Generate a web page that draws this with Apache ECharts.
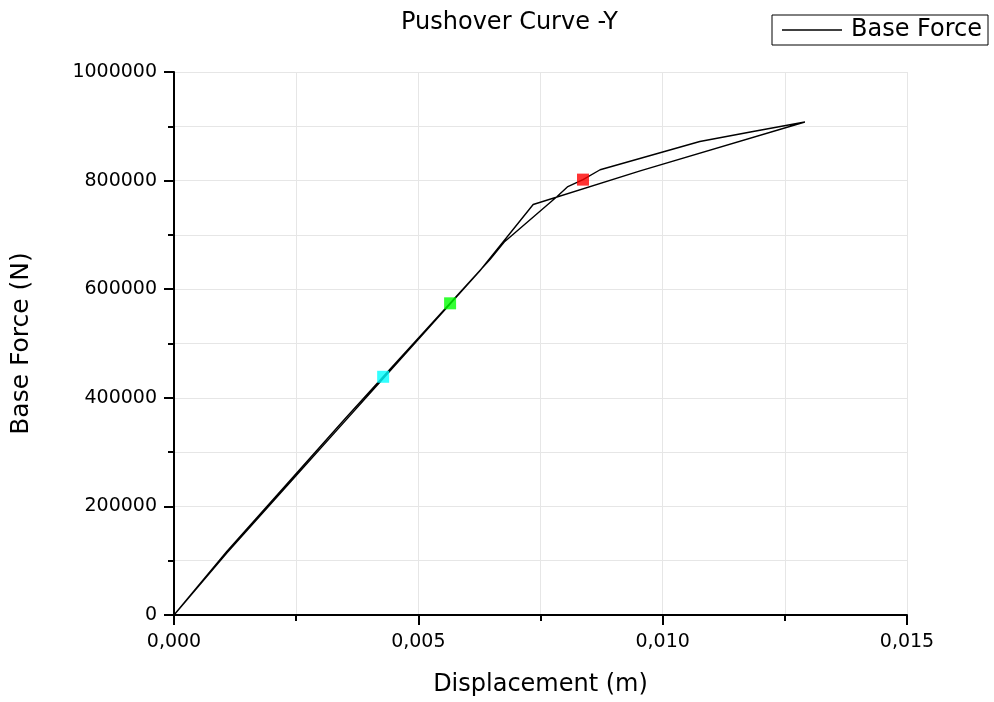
<!DOCTYPE html>
<html>
<head>
<meta charset="utf-8">
<script src="https://cdn.jsdelivr.net/npm/echarts@6/dist/echarts.min.js"></script>
<style>
html,body{margin:0;padding:0;background:#fff;}
#main{width:994px;height:702px;}
</style>
</head>
<body>
<div id="main"></div>
<script>
// loading branch (up), displacement in m, force in N
var upDisp  = [0, 0.00108, 0.0035, 0.00428, 0.00565, 0.00647, 0.00677, 0.00784, 0.00806, 0.00837, 0.00872, 0.01076, 0.01185, 0.01291];
var upForce = [0, 117000, 361500, 438700, 574000, 655000, 688000, 770600, 789000, 801800, 820000, 872000, 890500, 908000];
// return branch (back to origin)
var downDisp  = [0.01291, 0.00954, 0.00735, 0.00626, 0.0035, 0.00108, 0];
var downForce = [908000, 818000, 756000, 634000, 357000, 114000, 0];
// performance points
var markDisp  = [0.00428, 0.00565, 0.00837];
var markForce = [438700, 574000, 801800];
var markColors = ['#00ffff', '#00ff00', '#ff0000'];

var xTicks = { min: 0, max: 0.015, interval: 0.005 };
var yTicks = { min: 0, max: 1000000, interval: 200000 };

var curve = [];
for (var i = 0; i < upDisp.length; i++) curve.push([upDisp[i], upForce[i]]);
for (var j = 1; j < downDisp.length; j++) curve.push([downDisp[j], downForce[j]]);

var marks = [];
for (var k = 0; k < markDisp.length; k++) {
	marks.push({ value: [markDisp[k], markForce[k]], itemStyle: { color: markColors[k] } });
}

var font = 'DejaVu Sans';
var gridColor = '#e6e6e6';

var myChart = echarts.init(document.getElementById('main'));
var option = {
	animation: false,
	backgroundColor: '#fff',
	title: {
		text: 'Pushover Curve -Y',
		left: 401, top: 11, padding: 0,
		textStyle: { fontFamily: font, fontSize: 24, fontWeight: 'normal', color: '#000' }
	},
	legend: {
		data: [{ name: 'Base Force', icon: 'rect' }],
		left: 772, top: 15,
		padding: [3, 6, 3, 10],
		borderColor: '#000', borderWidth: 1,
		itemWidth: 60, itemHeight: 1.3,
		itemStyle: { color: '#000' },
		textStyle: { fontFamily: font, fontSize: 24, color: '#000', padding: [0, 0, 0, 4] }
	},
	grid: { left: 174, right: 87, top: 72, bottom: 85, containLabel: false },
	xAxis: {
		type: 'value',
		min: xTicks.min, max: xTicks.max, interval: xTicks.interval,
		name: 'Displacement (m)', nameLocation: 'middle', nameGap: 58,
		nameTextStyle: { fontFamily: font, fontSize: 24, color: '#000' },
		axisLine: { lineStyle: { color: '#000', width: 2 } },
		axisTick: { length: 10, lineStyle: { color: '#000', width: 2 } },
		minorTick: { show: true, splitNumber: 2, length: 6, lineStyle: { color: '#000', width: 2 } },
		splitLine: { show: true, lineStyle: { color: gridColor, width: 1 } },
		minorSplitLine: { show: true, lineStyle: { color: gridColor, width: 1 } },
		axisLabel: {
			margin: 18, fontFamily: font, fontSize: 19, color: '#000',
			formatter: function (v) { return v.toFixed(3).replace('.', ','); }
		}
	},
	yAxis: {
		type: 'value',
		min: yTicks.min, max: yTicks.max, interval: yTicks.interval,
		name: 'Base Force (N)', nameLocation: 'middle', nameGap: 140,
		nameTextStyle: { fontFamily: font, fontSize: 25, color: '#000' },
		axisLine: { show: true, lineStyle: { color: '#000', width: 2 } },
		axisTick: { show: true, length: 10, lineStyle: { color: '#000', width: 2 } },
		minorTick: { show: true, splitNumber: 2, length: 6, lineStyle: { color: '#000', width: 2 } },
		splitLine: { show: true, lineStyle: { color: gridColor, width: 1 } },
		minorSplitLine: { show: true, lineStyle: { color: gridColor, width: 1 } },
		axisLabel: {
			margin: 17, fontFamily: font, fontSize: 19, color: '#000',
			formatter: function (v) { return String(v); }
		}
	},
	series: [
		{
			name: 'Base Force',
			type: 'line',
			data: curve,
			symbol: 'none',
			lineStyle: { color: '#000', width: 1.4 },
			itemStyle: { color: '#000' }
		},
		{
			name: 'points',
			type: 'scatter',
			data: marks,
			symbol: 'rect',
			symbolSize: 12,
			z: 5
		}
	]
};
myChart.setOption(option);
</script>
</body>
</html>
